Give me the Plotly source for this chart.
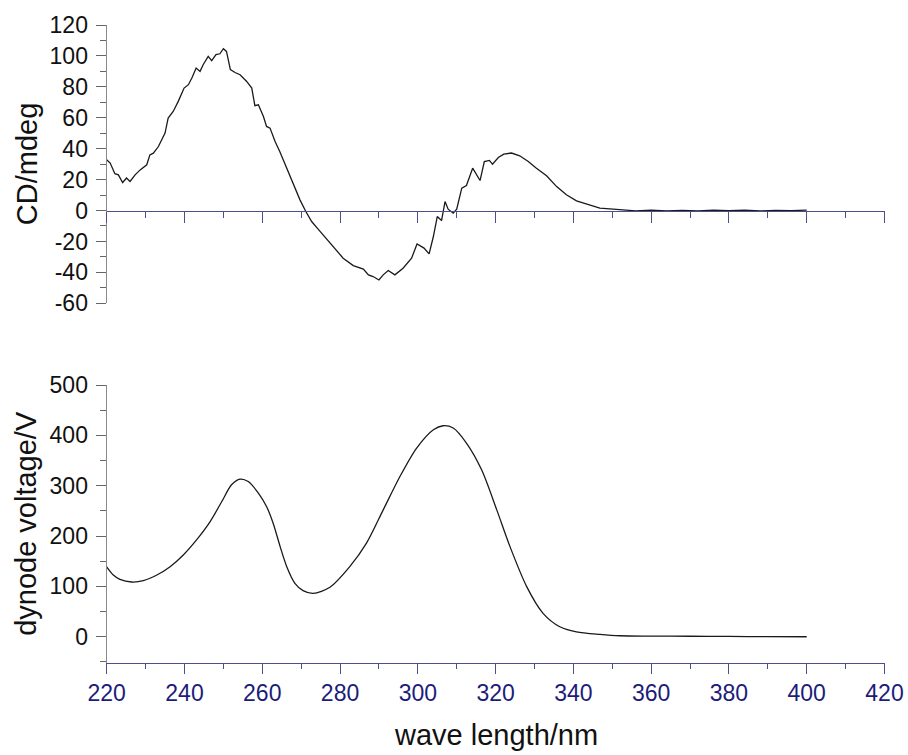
import plotly.graph_objects as go

# CD spectrum (mdeg) versus wavelength (nm)
cd_wavelength = [
    220.0, 220.9, 222.1, 223.0, 224.1, 225.1, 226.0, 227.3, 228.6, 230.3,
    231.1, 232.0, 233.3, 235.0, 235.8, 237.1, 238.4, 239.9, 241.0, 241.9,
    243.0, 244.0, 244.8, 246.1, 247.0, 248.1, 249.1, 250.0, 250.8, 251.8,
    253.0, 254.3, 256.0, 257.3, 258.1, 259.0, 260.3, 261.1, 262.0, 263.3,
    264.5, 266.3, 268.0, 269.7, 271.2, 272.7, 274.2, 278.3, 280.8, 283.4,
    286.0, 287.3, 288.5, 290.0, 291.1, 292.4, 294.1, 296.2, 298.4, 299.8,
    301.6, 302.9, 304.0, 305.0, 306.1, 307.0, 307.8, 309.1, 310.0, 311.3,
    312.5, 314.1, 316.0, 317.1, 318.4, 319.2, 320.7, 322.1, 324.1, 326.2,
    328.4, 330.5, 333.1, 335.7, 338.2, 340.8, 343.8, 346.8, 350.2, 353.0,
    356.0, 360.0, 364.0, 368.0, 372.0, 376.0, 380.0, 384.0, 388.0, 392.0,
    396.0, 400.0,
]
cd_mdeg = [
    32.8, 30.7, 23.8, 23.1, 18.1, 21.0, 18.8, 23.1, 26.3, 29.6,
    36.0, 37.1, 41.4, 50.1, 59.8, 64.1, 70.6, 79.2, 81.4, 85.7,
    92.2, 90.0, 94.3, 99.7, 96.9, 100.8, 101.4, 104.7, 102.9, 91.1,
    89.3, 87.8, 83.5, 79.2, 67.8, 68.4, 60.8, 54.4, 53.3, 44.7,
    38.2, 27.4, 17.7, 6.9, -0.6, -7.1, -11.5, -23.7, -30.8, -35.6,
    -37.9, -41.6, -42.7, -44.9, -41.6, -38.8, -41.6, -37.3, -30.8, -21.6,
    -24.3, -28.0, -16.8, -3.9, -6.5, 5.8, 0.9, -1.7, 0.9, 14.5,
    16.2, 27.4, 19.4, 31.7, 32.4, 30.0, 34.3, 36.5, 37.2, 35.4,
    31.7, 27.4, 22.5, 15.5, 10.2, 6.3, 3.7, 1.6, 0.9, 0.3,
    -0.2, 0.2, -0.3, 0.1, -0.2, 0.3, 0.0, 0.2, -0.3, 0.1,
    -0.1, 0.2,
]

# Photomultiplier dynode voltage (V) versus wavelength (nm)
hv_wavelength = [
    220.0, 221.7, 223.4, 226.4, 229.4, 232.9, 236.3, 239.7, 243.1, 246.6,
    249.6, 252.1, 254.3, 256.4, 259.0, 261.1, 262.8, 264.6, 266.3, 268.4,
    270.5, 273.1, 277.4, 282.5, 286.8, 291.1, 295.4, 299.7, 304.0, 306.5,
    309.1, 312.5, 316.4, 320.3, 323.7, 328.0, 332.2, 336.5, 340.8, 346.8,
    352.0, 360.0, 370.0, 380.0, 390.0, 400.0,
]
hv_volts = [
    139.0, 122.7, 114.1, 108.8, 111.4, 122.7, 139.2, 162.5, 192.4, 228.8,
    268.6, 301.8, 313.1, 308.3, 285.3, 258.6, 225.6, 179.0, 139.2, 106.2,
    91.5, 86.3, 98.3, 139.2, 185.8, 252.0, 318.3, 374.8, 411.2, 419.1,
    414.5, 384.7, 331.6, 252.0, 179.0, 99.5, 46.5, 19.9, 9.9, 4.8,
    2.0, 1.4, 1.0, 0.6, 0.3, 0.0,
]

x_ticks = list(range(220, 421, 20))
cd_ticks = list(range(-60, 121, 20))
hv_ticks = list(range(0, 501, 100))

W, H = 908, 755
FONT = "Liberation Sans, Arial, sans-serif"
NAVY = "#1c1c7a"
XLINE = "#4e4e8c"
YLINE = "#8a8a8a"

# plot-area placement in pixels
left_px, right_px = 106.7, 884.5
top_a, bot_a = 25.0, 303.3
top_b, bot_b = 385.0, 662.7

def px_y(p):
    return (H - p) / H

x_dom = [left_px / W, right_px / W]
ya_dom = [px_y(bot_a), px_y(top_a)]
yb_dom = [px_y(bot_b), px_y(top_b)]

cd_range = [-60, 120]
hv_range = [-51.5, 500]
zero_pos = ya_dom[0] + (0 - cd_range[0]) / (cd_range[1] - cd_range[0]) * (ya_dom[1] - ya_dom[0])

fig = go.Figure()
fig.add_trace(go.Scatter(
    x=cd_wavelength, y=cd_mdeg, mode="lines",
    line=dict(color="#1a1a1a", width=1.3),
    xaxis="x", yaxis="y", showlegend=False,
))
fig.add_trace(go.Scatter(
    x=hv_wavelength, y=hv_volts, mode="lines",
    line=dict(color="#1a1a1a", width=1.3, shape="spline", smoothing=0.8),
    xaxis="x2", yaxis="y2", showlegend=False,
))

common_y = dict(
    showline=True, linecolor=YLINE, linewidth=1.3,
    ticks="outside", ticklen=10, tickcolor="#666666", tickwidth=1,
    showgrid=False, zeroline=False, automargin=False,
    ticklabelstandoff=3,
    tickfont=dict(family=FONT, size=23, color="#111111"),
)

fig.update_layout(
    width=W, height=H,
    margin=dict(l=0, r=0, t=0, b=0, pad=0),
    paper_bgcolor="white", plot_bgcolor="white",
    xaxis=dict(
        domain=x_dom, range=[220, 420], anchor="free", position=zero_pos,
        showline=True, linecolor=XLINE, linewidth=1.3,
        ticks="outside", ticklen=11, tickcolor=XLINE, tickwidth=1.2,
        tickvals=x_ticks, showticklabels=False, automargin=False,
        minor=dict(ticks="outside", ticklen=6, dtick=10, tick0=220, tickcolor=XLINE, showgrid=False),
        showgrid=False, zeroline=False,
    ),
    yaxis=dict(
        domain=ya_dom, range=cd_range, anchor="x",
        tickvals=cd_ticks, ticktext=[str(v) for v in cd_ticks],
        minor=dict(ticks="outside", ticklen=6, dtick=10, tick0=0, tickcolor="#666666", showgrid=False),
        **common_y,
    ),
    xaxis2=dict(
        domain=x_dom, range=[220, 420], anchor="y2",
        showline=True, linecolor=XLINE, linewidth=1.3,
        ticks="outside", ticklen=10, tickcolor=XLINE, tickwidth=1.2,
        tickvals=x_ticks, ticktext=[str(v) for v in x_ticks], automargin=False,
        minor=dict(ticks="outside", ticklen=5, dtick=10, tick0=220, tickcolor=XLINE, showgrid=False),
        tickfont=dict(family=FONT, size=23, color=NAVY),
        showgrid=False, zeroline=False,
    ),
    yaxis2=dict(
        domain=yb_dom, range=hv_range, anchor="x2",
        tickvals=hv_ticks, ticktext=[str(v) for v in hv_ticks],
        minor=dict(ticks="outside", ticklen=6, dtick=50, tick0=0, tickcolor="#666666", showgrid=False),
        **common_y,
    ),
    annotations=[
        dict(text="CD/mdeg", xref="paper", yref="paper",
             x=27 / W, y=(ya_dom[0] + ya_dom[1]) / 2, textangle=-90,
             xanchor="center", yanchor="middle", showarrow=False,
             font=dict(family=FONT, size=29, color="#111111")),
        dict(text="dynode voltage/V", xref="paper", yref="paper",
             x=26 / W, y=(yb_dom[0] + yb_dom[1]) / 2, textangle=-90,
             xanchor="center", yanchor="middle", showarrow=False,
             font=dict(family=FONT, size=29, color="#111111")),
        dict(text="wave length/nm", xref="paper", yref="paper",
             x=(x_dom[0] + x_dom[1]) / 2, y=px_y(735), textangle=0,
             xanchor="center", yanchor="middle", showarrow=False,
             font=dict(family=FONT, size=29, color="#111111")),
    ],
)

fig.write_html("out.html")
